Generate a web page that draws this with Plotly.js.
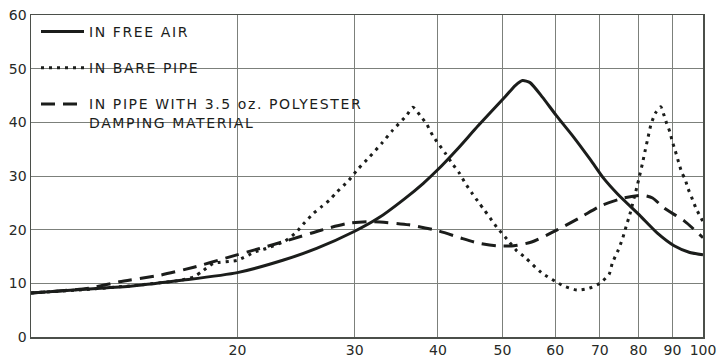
<!DOCTYPE html>
<html>
<head>
<meta charset="utf-8">
<script src="https://cdn.plot.ly/plotly-3.0.1.min.js"></script>
<style>
  html, body { margin: 0; padding: 0; background: #ffffff; }
  #chart { width: 718px; height: 361px; }
  .legendtext { letter-spacing: 1.6px; }
</style>
</head>
<body>
<div id="chart"></div>
<script>
// Frequency (Hz, log axis) and response values
const freeAirFreq = [9.8, 11.8, 13.9, 16.6, 20, 23.4, 26.3, 30, 32.6, 35.6, 38, 40, 42.7, 46, 50.5, 52.3, 53.6, 55, 57.4, 60.2, 63.9, 67.8, 71, 74.5, 80.3, 85.5, 90.5, 95.3, 100];
const freeAirVal  = [8.2, 8.9, 9.5, 10.6, 12, 14.3, 16.5, 19.7, 22.2, 25.7, 28.6, 31.2, 34.9, 39.4, 44.8, 46.9, 47.8, 47.4, 44.7, 41.3, 37.3, 33.0, 29.5, 26.6, 22.7, 19.3, 17.0, 15.8, 15.3];

const barePipeFreq = [9.8, 12, 14, 16.5, 17.2, 17.7, 18.4, 20, 21.3, 22.1, 23.6, 24.5, 25.1, 26, 26.7, 27.5, 28.1, 29.4, 30.3, 31.6, 33.0, 34.2, 35.9, 36.7, 37.6, 38.5, 39.3, 41.0, 42.1, 43.1, 44, 45, 46.1, 47, 47.9, 49, 51.2, 52.4, 54.1, 57.2, 61.8, 64.7, 67.5, 70, 72.3, 73.1, 74.6, 75.8, 76.7, 77.6, 79.7, 80.3, 81.1, 81.8, 82.7, 83.5, 84.8, 86.4, 87.4, 88.2, 89.2, 89.8, 90.8, 91.9, 92.9, 94.0, 95.0, 96.1, 97.6, 100];
const barePipeVal  = [8.2, 8.9, 9.6, 10.6, 11.2, 12.2, 13.7, 14.3, 15.9, 16.5, 17.9, 19.5, 21.0, 23.0, 24.2, 25.5, 26.8, 29.2, 31.2, 33.6, 36.2, 38.5, 41.3, 42.8, 41.3, 39.6, 37.5, 34.3, 32.2, 30.5, 28.6, 26.8, 25.0, 23.6, 22.2, 20.5, 17.7, 16.2, 14.8, 12.0, 9.5, 8.75, 9.1, 10.0, 11.7, 13.8, 16.2, 18.5, 20.7, 22.7, 28.3, 30.0, 32.3, 34.5, 37.2, 39.5, 41.7, 42.9, 41.3, 39.8, 38.2, 36.7, 34.8, 32.6, 30.7, 29.4, 27.6, 26.1, 24.0, 21.5];

const dampedFreq = [9.8, 12.0, 13.3, 15.3, 17.2, 19.2, 21.6, 23.8, 26.7, 29.4, 32, 36.2, 40, 43.4, 46, 49, 52, 55.3, 60.3, 65.7, 70.4, 76, 81.2, 84, 87.5, 93.8, 100];
const dampedVal  = [8.2, 9.1, 10.3, 11.5, 13, 14.7, 16.5, 18, 19.9, 21.2, 21.5, 20.9, 19.8, 18.4, 17.5, 17.0, 17.0, 17.7, 19.9, 22.4, 24.5, 25.9, 26.4, 25.9, 24.0, 21.6, 18.5];

const seriesNames = ["IN FREE AIR", "IN BARE PIPE", "IN PIPE WITH 3.5 oz. POLYESTER<br>DAMPING MATERIAL"];

const xTickVals = [20, 30, 40, 50, 60, 70, 80, 90, 100];
const xTickText = ["20", "30", "40", "50", "60", "70", "80", "90", "100"];
const yTickVals = [0, 10, 20, 30, 40, 50, 60];
const yTickText = ["0", "10", "20", "30", "40", "50", "60"];

const ink = "#1b1d1b";
const tickColor = "#262926";
const fontFam = "DejaVu Sans, sans-serif";

const traces = [
  { x: freeAirFreq, y: freeAirVal, name: seriesNames[0], legendgroup: "a", mode: "lines",
    line: { color: ink, width: 3, shape: "spline", smoothing: 0.6 } },
  { x: barePipeFreq, y: barePipeVal, name: seriesNames[1], legendgroup: "b", mode: "lines",
    line: { color: ink, width: 3, dash: "3px,5px", shape: "spline", smoothing: 0.6 } },
  { x: dampedFreq, y: dampedVal, name: seriesNames[2], legendgroup: "c", mode: "lines",
    line: { color: ink, width: 3, dash: "14px,8px", shape: "spline", smoothing: 0.6 } }
];

const W = 718, H = 361;
const mL = 31, mR = 15, mT = 15, mB = 24;
const pw = W - mL - mR, ph = H - mT - mB;
function px(x) { return (x - mL) / pw; }
function py(y) { return 1 - (y - mT) / ph; }

// white patches behind legend text (hide grid lines as in the reference)
const shapes = [
  { type: "rect", xref: "paper", yref: "paper", x0: px(33), x1: px(222), y0: py(77), y1: py(58), fillcolor: "#ffffff", line: { width: 0 }, layer: "between" },
  { type: "rect", xref: "paper", yref: "paper", x0: px(33), x1: px(370), y0: py(113), y1: py(90), fillcolor: "#ffffff", line: { width: 0 }, layer: "between" },
  { type: "rect", xref: "paper", yref: "paper", x0: px(80), x1: px(275), y0: py(135), y1: py(113), fillcolor: "#ffffff", line: { width: 0 }, layer: "between" }
];

const layout = {
  width: W, height: H,
  margin: { l: mL, r: mR, t: mT, b: mB, pad: 0 },
  paper_bgcolor: "#ffffff",
  plot_bgcolor: "#ffffff",
  font: { family: fontFam, size: 14, color: tickColor },
  showlegend: true,
  legend: {
    x: px(36), y: py(16), xanchor: "left", yanchor: "top",
    bgcolor: "rgba(0,0,0,0)", borderwidth: 0,
    traceorder: "grouped", tracegroupgap: 15, valign: "top",
    itemwidth: 43,
    font: { family: fontFam, size: 14, color: ink }
  },
  xaxis: {
    type: "log",
    range: [Math.log10(9.8), 2],
    tickvals: xTickVals, ticktext: xTickText,
    showgrid: true, gridcolor: "#7c807b", gridwidth: 1,
    showline: true, linecolor: "#4b4f4a", linewidth: 1.5, mirror: true,
    ticks: "", zeroline: false,
    tickfont: { family: fontFam, size: 14, color: tickColor }
  },
  yaxis: {
    range: [0, 60],
    tickvals: yTickVals, ticktext: yTickText,
    showgrid: true, gridcolor: "#7c807b", gridwidth: 1,
    showline: true, linecolor: "#4b4f4a", linewidth: 1.5, mirror: true,
    ticks: "", zeroline: false,
    tickfont: { family: fontFam, size: 14, color: tickColor }
  },
  shapes: shapes
};

Plotly.newPlot("chart", traces, layout, { displayModeBar: false, staticPlot: true });
</script>
</body>
</html>
